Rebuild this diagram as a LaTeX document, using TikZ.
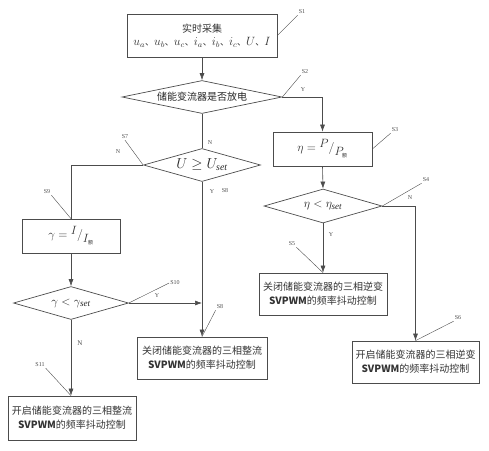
\documentclass[tikz,border=0pt]{standalone}
\usepackage{fontspec}
\setmainfont{Liberation Serif}
\newfontfamily\cjk{Noto Sans CJK SC}
\usetikzlibrary{shapes.geometric,arrows.meta}
\newcommand{\dunhao}{{\cjk\fontsize{9}{9}\selectfont 、}}
\newcommand{\erow}{{\bfseries SVPWM}{\cjk 的频率抖动控制}}

\begin{document}
\begin{tikzpicture}[x=1pt,y=-1pt]

% Flow style
\tikzset{
    >={Latex[length=7pt,width=5pt]},
    link/.style={draw=black!70, line width=0.6pt},
    lead/.style={draw=black!70, line width=0.4pt},
    box/.style={draw=black!70, line width=0.7pt, rectangle, inner sep=0pt, align=center,
        font=\cjk\fontsize{10}{14}\selectfont, text=black!80},
    test/.style={draw=black!70, line width=0.7pt, diamond, inner sep=0pt, aspect=5,
        minimum height=33pt, text=black!85},
    tag/.style={font=\fontsize{6}{6}\selectfont, text=black!70, inner sep=1pt},
    yn/.style={font=\fontsize{6}{6}\selectfont, text=black!70, inner sep=1pt}
}
\useasboundingbox (0,0) rectangle (489,450);

\node[box, minimum width=150pt, minimum height=43pt] (S1) at (202,35.5)
    {实时采集\\[-1pt] \fontsize{12}{12}\selectfont $u_a$\dunhao$u_b$\dunhao$u_c$\dunhao$i_a$\dunhao$i_b$\dunhao$i_c$\dunhao$U$\dunhao$I$};
\node[test, minimum width=160pt, font=\cjk\fontsize{10}{10}\selectfont] (S2) at (202,97) {储能变流器是否放电};
\node[test, minimum width=117pt, font=\fontsize{14}{14}\selectfont] (S7) at (202,165) {$U \geq U_{\mathit{set}}$};
\node[box, minimum width=99pt, minimum height=34pt] (S3) at (322.5,149)
    {\fontsize{13}{13}\selectfont $\eta = \raisebox{4pt}{$P$}\big/\raisebox{-4pt}{$P_{\mbox{\cjk\fontsize{5}{5}\selectfont 额}}$}$};
\node[test, minimum width=118pt, minimum height=34pt, font=\fontsize{13}{13}\selectfont] (S4) at (323,206) {$\eta < \eta_{\mathit{set}}$};
\node[box, minimum width=128pt, minimum height=42pt] (S5) at (323,294) {关闭储能变流器的三相逆变\\ \erow};
\node[box, minimum width=127pt, minimum height=42pt] (S6) at (415.5,362) {开启储能变流器的三相逆变\\ \erow};
\node[box, minimum width=98pt, minimum height=34pt] (S9) at (71,236)
    {\fontsize{13}{13}\selectfont $\gamma = \raisebox{4pt}{$I$}\big/\raisebox{-4pt}{$I_{\mbox{\cjk\fontsize{5}{5}\selectfont 额}}$}$};
\node[test, minimum width=115pt, font=\fontsize{13}{13}\selectfont] (S10) at (71,303) {$\gamma < \gamma_{\mathit{set}}$};
\node[box, minimum width=130pt, minimum height=42pt] (S8) at (202,358) {关闭储能变流器的三相整流\\ \erow};
\node[box, minimum width=128pt, minimum height=44pt] (S11) at (72,418) {开启储能变流器的三相整流\\ \erow};

% Connections
\draw[link,->] (S1.south) -- (S2.north);
\draw[link,->] (S2.east) -| (S3.north);
\draw[link] (S2.south) -- (S7.north);
\draw[link,->] (S3.south) -- (S4.north);
\draw[link,->] (S4.south) -- (S5.north);
\draw[link,->] (S4.east) -| (S6.north);
\draw[link] (S7.west) -| (S9.north);
\draw[link,->] (S9.south) -- (S10.north);
\draw[link,->] (S7.south) -- (S8.north);
\draw[link,->] (S10.east) -- (S10.east -| S8.north);
\draw[link,->] (S10.south) -- (S11.north -| S10.south);

% Y / N
\node[yn] (Y2) at (303,90) {Y};
\node[yn] (N2) at (210,143) {N};
\node[yn] (N7) at (118,152) {N};
\node[yn] (Y7) at (212,192) {Y};
\node[yn] (N4) at (410,198) {N};
\node[yn] (Y4) at (331,235) {Y};
\node[yn] (Y10) at (157,296) {Y};
\node[yn, font=\fontsize{7}{7}\selectfont] (N10) at (80,343) {N};

% Step tags
\node[tag] (LS1) at (302,12) {S1};
\node[tag] (LS2) at (305,72) {S2};
\node[tag] (LS3) at (395,130) {S3};
\node[tag] (LS4) at (426,180) {S4};
\node[tag] (LS5) at (292,244) {S5};
\node[tag] (LS6) at (458,318) {S6};
\node[tag] (LS7) at (125,137) {S7};
\node[tag] (LS8a) at (225,191) {S8};
\node[tag] (LS8) at (220,307) {S8};
\node[tag] (LS9) at (47,192) {S9};
\node[tag] (LS10) at (175,283) {S10};
\node[tag] (LS11) at (40,365) {S11};
\draw[lead] (S1.east) -- (LS1.south west);
\draw[lead] (S2.east) -- (LS2.south west);
\draw[lead] (S3.east) -- (LS3.south west);
\draw[lead] (S4.east) -- (LS4.south west);
\draw[lead] (S5.north) -- (LS5.south east);
\draw[lead] (S6.north) -- (LS6.south west);
\draw[lead] (S7.west) -- (LS7.south);
\draw[lead] (S8.north) -- (LS8.south west);
\draw[lead] (S9.north) -- (LS9.south east);
\draw[lead] (S10.east) -- (LS10.west);
\draw[lead] (S11.north -| S10.south) -- (LS11.south east);
\end{tikzpicture}
\end{document}
